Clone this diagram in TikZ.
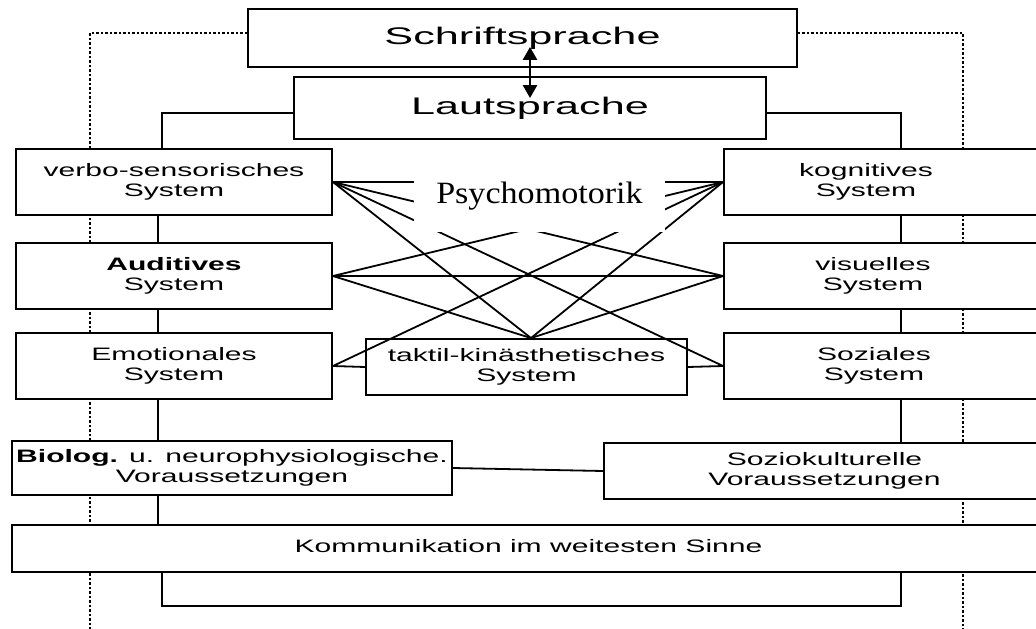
\documentclass[tikz,border=0pt]{standalone}
\usepackage{fontspec}
\usetikzlibrary{arrows.meta,calc}
\newfontfamily\sansf{Liberation Sans}
\newfontfamily\seriff{Liberation Serif}
% box captions are set wide, as in the original chart
\newcommand\boxtext[1]{\scalebox{1.67}[1]{\begin{tabular}{@{}c@{}}#1\end{tabular}}}
\newcommand\headtext[1]{\scalebox{1.8}[1]{#1}}

\tikzset{
  sysbox/.style={draw, fill=white, line width=1.9pt, inner sep=0pt,
    font=\sansf\fontsize{18}{20}\selectfont},
  boxcaption/.style={inner sep=0pt, font=\sansf\fontsize{18}{20}\selectfont},
  headbox/.style={sysbox, font=\sansf\fontsize{24}{26}\selectfont},
  link/.style={line width=1.8pt},
  dotline/.style={line width=1.6pt, dash pattern=on 2.5pt off 2pt},
  dblarrow/.style={line width=2.6pt, {Triangle[width=14pt,length=13pt]}-{Triangle[width=14pt,length=13pt]}},
  mask/.style={fill=white, inner sep=0pt, font=\seriff\fontsize{31}{31}\selectfont}
}

\begin{document}
\begin{tikzpicture}[x=1pt, y=-1pt]
\useasboundingbox (0,0) rectangle (1036,629);
\clip (0,0) rectangle (1036,629);
\fill[white] (0,0) rectangle (1036,629);

% column positions of the vertical connectors
\coordinate (cl) at (158,0);
\coordinate (cla) at (162,0);
\coordinate (cr) at (901,0);

% top boxes
\node[headbox, minimum width=549pt, minimum height=58pt] (schrift) at (522.5,38) {\headtext{Schriftsprache}};

% dotted frame behind the columns
\draw[dotline] ([yshift=5pt]schrift.west) -| (90,640);
\draw[dotline] ([yshift=5pt]schrift.east) -| (963,640);

\node[headbox, minimum width=472pt, minimum height=62pt] (laut) at (530,108) {\headtext{Lautsprache}};

% left column
\node[sysbox, minimum width=316pt, minimum height=66pt] (verbo) at (174,182) {\boxtext{verbo-sensorisches\\System}};
\node[sysbox, minimum width=316pt, minimum height=66pt] (aud) at (174,276) {\boxtext{\textbf{Auditives}\\System}};
\node[sysbox, minimum width=316pt, minimum height=66pt] (emo) at (174,366) {\boxtext{Emotionales\\System}};
\node[sysbox, minimum width=440pt, minimum height=54pt] (bio) at (232,468) {\boxtext{\textbf{Biolog.} u. neurophysiologische.\\Voraussetzungen}};

% right column (boxes run past the right edge)
\node[sysbox, minimum width=321pt, minimum height=66pt] (kog) at (884.5,182) {};
\node[boxcaption] (kogt) at (866,182) {\boxtext{kognitives\\System}};
\node[sysbox, minimum width=321pt, minimum height=66pt] (vis) at (884.5,276) {};
\node[boxcaption] (vist) at (873,276) {\boxtext{visuelles\\System}};
\node[sysbox, minimum width=321pt, minimum height=66pt] (soz) at (884.5,366) {};
\node[boxcaption] (sozt) at (874,366) {\boxtext{Soziales\\System}};
\node[sysbox, minimum width=441pt, minimum height=56pt] (kult) at (824.5,471) {\boxtext{Soziokulturelle\\Voraussetzungen}};

% middle and bottom
\node[sysbox, minimum width=321pt, minimum height=56pt] (takt) at (526.5,367) {\boxtext{taktil-kinästhetisches\\System}};
\node[sysbox, minimum width=1033pt, minimum height=47pt] (komm) at (528.5,548.5) {\boxtext{Kommunikation im weitesten Sinne}};

\coordinate (tk) at ([xshift=4.5pt]takt.north);

% speech <-> writing
\draw[dblarrow] ([yshift=21pt]schrift.south -| laut.north) -- ([yshift=-22pt]laut.north);

% tree connectors
\draw[link] ([yshift=-5pt]laut.west) -| (verbo.north -| cla);
\draw[link] ([yshift=-5pt]laut.east) -| (kog.north -| cr);
\draw[link] (verbo.south -| cl) -- (aud.north -| cl);
\draw[link] (aud.south -| cl) -- (emo.north -| cl);
\draw[link] (emo.south -| cl) -- (bio.north -| cl);
\draw[link] (bio.south -| cl) -- (komm.north -| cl);
\draw[link] (kog.south -| cr) -- (vis.north -| cr);
\draw[link] (vis.south -| cr) -- (soz.north -| cr);
\draw[link] (soz.south -| cr) -- (kult.north -| cr);
\draw[link] (komm.south -| cla) -- ++(0,33) -| (komm.south -| cr);
\draw[link] (bio.east) -- (kult.west);
\draw[link] (emo.east) -- (takt.west);
\draw[link] (takt.east) -- (soz.west);

% psychomotor cross links
\draw[link] (verbo.east) -- (kog.west);
\draw[link] (verbo.east) -- (vis.west);
\draw[link] (verbo.east) -- (soz.west);
\draw[link] (verbo.east) -- (tk);
\draw[link] (aud.east) -- (kog.west);
\draw[link] (aud.east) -- (vis.west);
\draw[link] (aud.east) -- (tk);
\draw[link] (emo.east) -- (kog.west);
\draw[link] (kog.west) -- (tk);
\draw[link] (vis.west) -- (tk);

% label over the crossing lines
\node[mask, minimum width=251pt, minimum height=72pt] (psy) at (539.5,196) {\scalebox{1.1}[1]{Psychomotorik}};
\end{tikzpicture}
\end{document}
